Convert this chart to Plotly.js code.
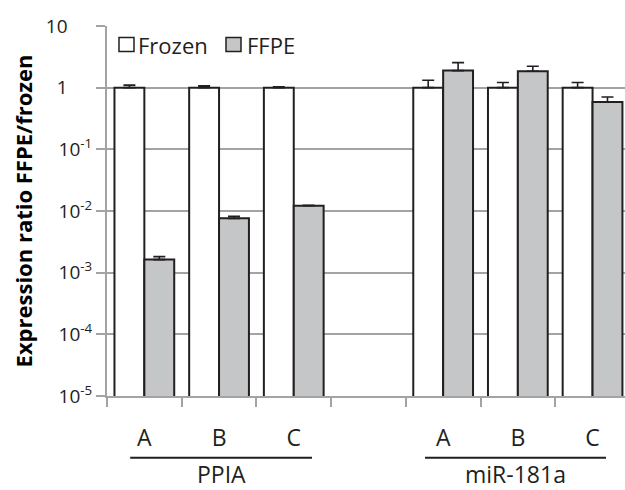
<!DOCTYPE html>
<html>
<head>
<meta charset="utf-8">
<script src="https://cdn.plot.ly/plotly-3.0.1.min.js"></script>
<style>html,body{margin:0;padding:0;background:#fff;}#chart{width:625px;height:490px;}</style>
</head>
<body>
<div id="chart"></div>
<script>
// ---- data ----
const genes = ["PPIA", "miR-181a"];
const samples = ["A", "B", "C"];
const frozenValues = [1, 1, 1, 1, 1, 1];
const frozenErrors = [0.1, 0.07, 0.03, 0.32, 0.21, 0.21];
const ffpeValues = [0.00163, 0.0076, 0.0122, 1.89, 1.85, 0.586];
const ffpeErrors = [0.00019, 0.0006, 0.0002, 0.66, 0.38, 0.12];
const yTickVals = [1e-5, 1e-4, 1e-3, 1e-2, 1e-1, 1, 10];
const yTickText = ["10<sup>-5</sup>", "10<sup>-4</sup>", "10<sup>-3</sup>", "10<sup>-2</sup>", "10<sup>-1</sup>", "1\u00a0\u00a0\u00a0\u00a0\u00a0", "10\u00a0\u00a0\u00a0\u00a0\u00a0"];
const seriesNames = ["Frozen", "FFPE"];

// ---- positions: groups of three samples separated by one empty slot ----
const xPos = [];
const xLabels = [];
genes.forEach((g, gi) => samples.forEach((s, si) => { xPos.push(gi * (samples.length + 1) + si); xLabels.push(s); }));
const nSlots = genes.length * (samples.length + 1) - 1;
const boundaries = [];
for (let i = 0; i <= nSlots; i++) boundaries.push(i - 0.5);

const dark = "#231f20";
const gridGray = "#a3a3a3";
const font = "Open Sans, sans-serif";

const zeros = xPos.map(() => 0);
const traces = [
  {type: "bar", name: seriesNames[0], x: xPos, y: frozenValues,
   marker: {color: "#ffffff", line: {color: dark, width: 2}},
   error_y: {type: "data", symmetric: false, array: frozenErrors, arrayminus: zeros, color: dark, thickness: 1.6, width: 6},
   showlegend: false, hoverinfo: "skip"},
  {type: "bar", name: seriesNames[1], x: xPos, y: ffpeValues,
   marker: {color: "#c5c6c8", line: {color: dark, width: 2}},
   error_y: {type: "data", symmetric: false, array: ffpeErrors, arrayminus: zeros, color: dark, thickness: 1.6, width: 6},
   showlegend: false, hoverinfo: "skip"}
];

// layout helpers (pixel -> paper)
const L = 107, T = 26, W = 518, H = 370;
const px = v => (v - L) / W;
const py = v => (T + H - v) / H;

const groupLine = [[-0.19, 2.244], [3.757, 6.18]];
const shapes = [];
const annotations = [];
genes.forEach((g, gi) => {
  shapes.push({type: "line", xref: "x", yref: "paper", x0: groupLine[gi][0], x1: groupLine[gi][1], y0: py(457.7), y1: py(457.7), line: {color: dark, width: 2}});
  annotations.push({text: g, xref: "x", yref: "paper", x: (groupLine[gi][0] + groupLine[gi][1]) / 2, y: py(474), xanchor: "center", yanchor: "middle", showarrow: false, font: {family: font, size: 23, color: dark}});
});
// legend (drawn as shapes + text)
const legendItems = [
  {sq: [119, 134], fill: "#ffffff", textX: 136},
  {sq: [226, 241], fill: "#c5c6c8", textX: 245}
];
legendItems.forEach((it, i) => {
  shapes.push({type: "rect", xref: "paper", yref: "paper", x0: px(it.sq[0]), x1: px(it.sq[1]), y0: py(51.5), y1: py(37.5), fillcolor: it.fill, line: {color: dark, width: 1.5}});
  annotations.push({text: seriesNames[i], xref: "paper", yref: "paper", x: px(it.textX), y: py(44.5), xanchor: "left", yanchor: "middle", showarrow: false, font: {family: font, size: 22, color: dark}});
});

const layout = {
  width: 625, height: 490,
  margin: {l: L, r: 0, t: T, b: 490 - T - H, pad: 0},
  paper_bgcolor: "#ffffff", plot_bgcolor: "#ffffff",
  barmode: "group", bargap: 0.2, bargroupgap: 0,
  showlegend: false,
  font: {family: font, color: dark},
  xaxis: {
    type: "linear", range: [-0.5, (625 - L) / 74.7 - 0.5],
    tickmode: "array", tickvals: xPos, ticktext: xLabels,
    ticks: "", showgrid: false, zeroline: false,
    showline: true, linecolor: gridGray, linewidth: 2,
    tickfont: {family: font, size: 23, color: dark},
    ticklabelstandoff: 20,
    minor: {tickmode: "array", tickvals: boundaries, ticks: "outside", ticklen: 9, tickwidth: 2, tickcolor: gridGray, showgrid: false}
  },
  yaxis: {
    type: "log", range: [-5, 1],
    tickmode: "array", tickvals: yTickVals, ticktext: yTickText,
    ticks: "outside", ticklen: 9, tickwidth: 2, tickcolor: gridGray,
    showgrid: true, gridcolor: gridGray, gridwidth: 2,
    showline: true, linecolor: gridGray, linewidth: 2, zeroline: false,
    tickfont: {family: font, size: 19, color: dark},
    title: {text: "Expression ratio FFPE/frozen", font: {family: font, size: 22, color: "#000000", weight: "bold"}, standoff: 7}
  },
  shapes: shapes,
  annotations: annotations
};

Plotly.newPlot("chart", traces, layout, {displayModeBar: false, staticPlot: true});
</script>
</body>
</html>
